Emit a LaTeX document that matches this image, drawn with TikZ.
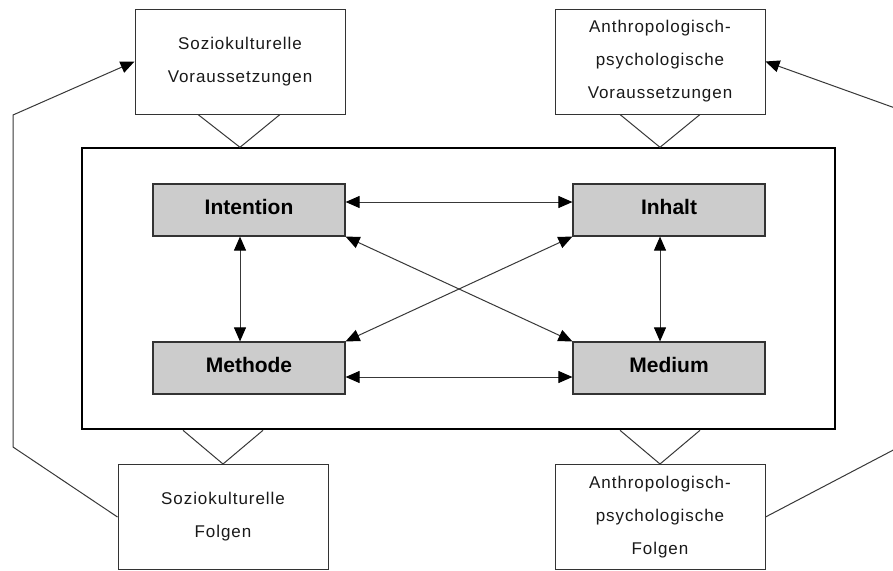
\documentclass[tikz,border=0pt]{standalone}
\usepackage{fontspec}
\setmainfont{Liberation Sans}
\newfontfamily\lblfont[LetterSpace=5.5]{Liberation Sans}
\usetikzlibrary{arrows.meta,calc}

\begin{document}
\begin{tikzpicture}[x=1pt,y=-1pt,
  outer/.style={draw=black!80, line width=1pt, fill=white,
    minimum width=210pt, minimum height=105pt, inner sep=0pt,
    align=center, font=\lblfont\fontsize{17}{33}\selectfont, text=black!90},
  factor/.style={draw=black!80, line width=1.2pt, fill=black!20,
    minimum width=192pt, minimum height=52pt, inner sep=0pt,
    font=\bfseries\fontsize{21}{25}\selectfont,
    text height=14pt, text depth=6pt},
  link/.style={draw=black!78, line width=1pt},
  both/.style={link, {Triangle[length=14pt,width=12pt,color=black]}-{Triangle[length=14pt,width=12pt,color=black]}},
  tip/.style={link, -{Triangle[length=14pt,width=12pt,color=black]}}
]
\useasboundingbox (0,0) rectangle (893,570);
\clip (0,0) rectangle (893,570);
\fill[white] (0,0) rectangle (893,570);

% preconditions and consequences
\node[outer] (svor) at (240,61.5) {Soziokulturelle\\Voraussetzungen};
\node[outer] (avor) at (660,61.5) {Anthropologisch-\\psychologische\\Voraussetzungen};
\node[outer] (sfolg) at (223,517) {Soziokulturelle\\Folgen};
\node[outer] (afolg) at (660,517) {Anthropologisch-\\psychologische\\Folgen};

% central frame
\node[draw=black, line width=2pt, minimum width=753.5pt, minimum height=281pt,
  inner sep=0pt] (frame) at (458.3,288.8) {};

% didactic factors
\node[factor] (intention) at (249,210) {Intention};
\node[factor] (inhalt) at (669,210) {Inhalt};
\node[factor] (methode) at (249,368) {Methode};
\node[factor] (medium) at (669,368) {Medium};

% mutual relations
\draw[both] ([yshift=8pt]intention.east) -- ([yshift=8pt]intention.east -| inhalt.west);
\draw[both] ([yshift=-9pt]methode.east) -- ([yshift=-9pt]methode.east -| medium.west);
\draw[both] ([xshift=-9pt]intention.south) -- ([xshift=-9pt]intention.south |- methode.north);
\draw[both] ([xshift=-9pt]inhalt.south) -- ([xshift=-9pt]inhalt.south |- medium.north);
\draw[both] (intention.south east) -- (medium.north west);
\draw[both] (inhalt.south west) -- (methode.north east);

% wedges joining the outer boxes to the frame
\draw[link] ($(svor.south)+(-42,0)$) -- (svor.south |- frame.north) -- ($(svor.south)+(40,0)$);
\draw[link] ($(avor.south)+(-40,0)$) -- (avor.south |- frame.north) -- ($(avor.south)+(40,0)$);
\draw[link] ($(sfolg.north |- frame.south)+(-40,0)$) -- (sfolg.north) -- ($(sfolg.north |- frame.south)+(40,0)$);
\draw[link] ($(afolg.north |- frame.south)+(-40,0)$) -- (afolg.north) -- ($(afolg.north |- frame.south)+(40,0)$);

% feedback loops
\coordinate (lb) at (13,447);
\coordinate (lt) at (13,115);
\coordinate (rb) at (920,436);
\coordinate (rt) at (920,117);
\draw[tip] (sfolg.west) -- (lb) -- (lt) -- (svor.west);
\draw[tip] (afolg.east) -- (rb) -- (rt) -- (avor.east);
\end{tikzpicture}
\end{document}
